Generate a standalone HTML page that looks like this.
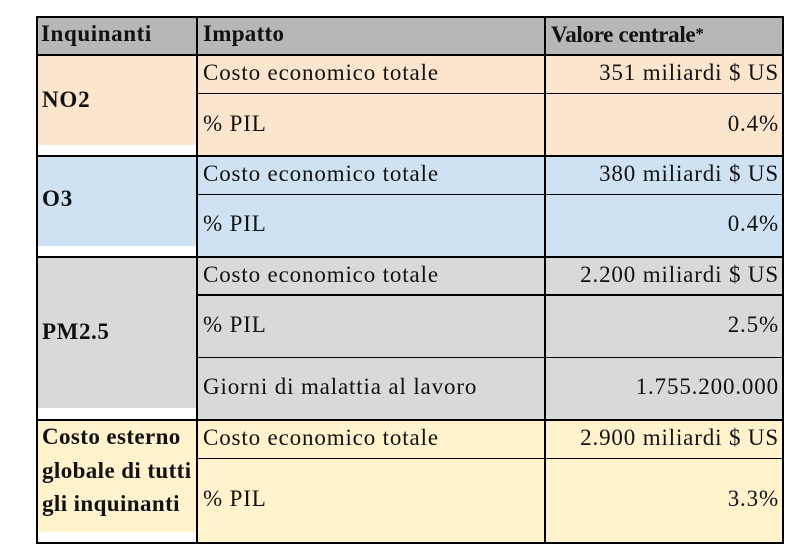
<!DOCTYPE html>
<html>
<head>
<meta charset="utf-8">
<style>
  html, body { margin:0; padding:0; }
  body { width:803px; height:558px; background:#ffffff; position:relative; overflow:hidden;
         font-family:"Liberation Serif", "DejaVu Serif", serif; color:#111; }
  .bg { position:absolute; }
  .ln { position:absolute; background:#000; }
  .t { position:absolute; font-size:23px; line-height:22px; white-space:nowrap; letter-spacing:0.85px; }
  .b { font-weight:bold; letter-spacing:0.4px; }
  .r { text-align:right; left:546px; width:233px; }
</style>
</head>
<body>
<!-- backgrounds -->
<div class="bg" style="left:38px;top:18px;width:744px;height:36px;background:#b7b7b7;"></div>

<div class="bg" style="left:198px;top:56px;width:584px;height:99px;background:#fce5cd;"></div>
<div class="bg" style="left:38px;top:56px;width:158px;height:89px;background:#fce5cd;"></div>

<div class="bg" style="left:198px;top:157px;width:584px;height:99px;background:#cfe2f3;"></div>
<div class="bg" style="left:38px;top:157px;width:158px;height:89px;background:#cfe2f3;"></div>

<div class="bg" style="left:198px;top:258px;width:584px;height:161px;background:#d9d9d9;"></div>
<div class="bg" style="left:38px;top:258px;width:158px;height:150px;background:#d9d9d9;"></div>

<div class="bg" style="left:198px;top:421px;width:584px;height:121px;background:#fff2cc;"></div>
<div class="bg" style="left:38px;top:421px;width:158px;height:111px;background:#fff2cc;"></div>

<!-- vertical lines -->
<div class="ln" style="left:36px;top:16px;width:2px;height:528px;"></div>
<div class="ln" style="left:196px;top:16px;width:2px;height:528px;"></div>
<div class="ln" style="left:544px;top:16px;width:2px;height:528px;"></div>
<div class="ln" style="left:782px;top:16px;width:2px;height:528px;"></div>

<!-- horizontal lines -->
<div class="ln" style="left:36px;top:16px;width:748px;height:2px;"></div>
<div class="ln" style="left:36px;top:54px;width:748px;height:2px;"></div>
<div class="ln" style="left:198px;top:93px;width:584px;height:1px;"></div>
<div class="ln" style="left:36px;top:155px;width:748px;height:2px;"></div>
<div class="ln" style="left:198px;top:194px;width:584px;height:1px;"></div>
<div class="ln" style="left:36px;top:256px;width:748px;height:2px;"></div>
<div class="ln" style="left:198px;top:294px;width:584px;height:2px;"></div>
<div class="ln" style="left:198px;top:357px;width:584px;height:1px;"></div>
<div class="ln" style="left:36px;top:419px;width:748px;height:2px;"></div>
<div class="ln" style="left:198px;top:458px;width:584px;height:1px;"></div>
<div class="ln" style="left:36px;top:542px;width:748px;height:2px;"></div>

<!-- header -->
<div class="t b" style="left:41px;top:23px;letter-spacing:0.6px;">Inquinanti</div>
<div class="t b" style="left:203px;top:23px;letter-spacing:0.3px;">Impatto</div>
<div class="t b" style="left:551px;top:23px;letter-spacing:-0.3px;">Valore centrale<span style="font-size:17px;vertical-align:3px;">*</span></div>

<!-- NO2 -->
<div class="t b" style="left:42px;top:89px;letter-spacing:0.8px;">NO2</div>
<div class="t" style="left:203px;top:62px;">Costo economico totale</div>
<div class="t r" style="top:62px;">351 miliardi $ US</div>
<div class="t" style="left:203px;top:113px;">% PIL</div>
<div class="t r" style="top:113px;">0.4%</div>

<!-- O3 -->
<div class="t b" style="left:42px;top:188px;letter-spacing:0.8px;">O3</div>
<div class="t" style="left:203px;top:163px;">Costo economico totale</div>
<div class="t r" style="top:163px;">380 miliardi $ US</div>
<div class="t" style="left:203px;top:213px;">% PIL</div>
<div class="t r" style="top:213px;">0.4%</div>

<!-- PM2.5 -->
<div class="t b" style="left:42px;top:321px;letter-spacing:0.6px;">PM2.5</div>
<div class="t" style="left:203px;top:264px;">Costo economico totale</div>
<div class="t r" style="top:264px;">2.200 miliardi $ US</div>
<div class="t" style="left:203px;top:314px;">% PIL</div>
<div class="t r" style="top:314px;">2.5%</div>
<div class="t" style="left:203px;top:376px;">Giorni di malattia al lavoro</div>
<div class="t r" style="top:376px;">1.755.200.000</div>

<!-- Totale -->
<div class="t b" style="left:42px;top:426px;">Costo esterno</div>
<div class="t b" style="left:42px;top:460px;">globale di tutti</div>
<div class="t b" style="left:42px;top:493px;">gli inquinanti</div>
<div class="t" style="left:203px;top:427px;">Costo economico totale</div>
<div class="t r" style="top:427px;">2.900 miliardi $ US</div>
<div class="t" style="left:203px;top:488px;">% PIL</div>
<div class="t r" style="top:488px;">3.3%</div>
</body>
</html>
